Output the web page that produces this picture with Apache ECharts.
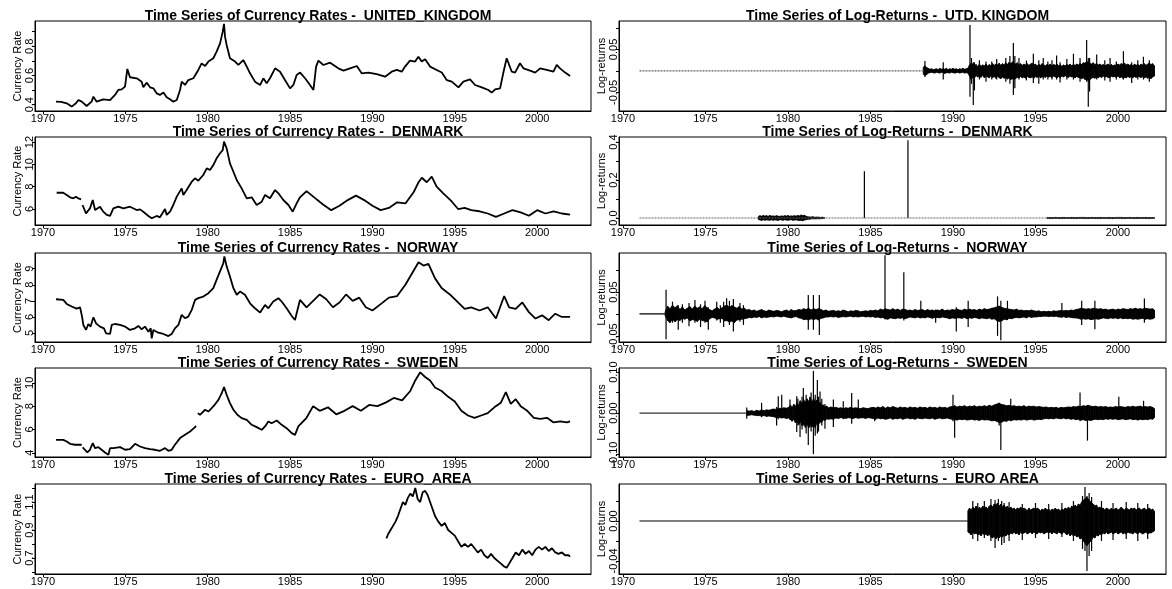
<!DOCTYPE html>
<html>
<head>
<meta charset="utf-8">
<script src="https://cdn.jsdelivr.net/npm/echarts@6/dist/echarts.min.js"></script>
<style>
  html, body { margin: 0; padding: 0; background: #fff; }
  #chart { width: 1172px; height: 589px; }
</style>
</head>
<body>
<div id="chart"></div>
<script>
// ---------- data ----------
const yearTicks = [1970, 1975, 1980, 1985, 1990, 1995, 2000];

const countriesRate = ['UNITED_KINGDOM', 'DENMARK', 'NORWAY', 'SWEDEN', 'EURO_AREA'];
const countriesReturn = ['UTD. KINGDOM', 'DENMARK', 'NORWAY', 'SWEDEN', 'EURO AREA'];

// currency rates: [decimal year, rate]; null marks a break in the series
const ukRate = [[1970.79,0.421],[1971.1,0.42],[1971.44,0.41],[1971.74,0.387],[1971.84,0.382],[1972.0,0.41],[1972.15,0.432],[1972.35,0.421],[1972.65,0.391],[1972.95,0.421],[1973.06,0.455],[1973.26,0.421],[1973.66,0.437],[1974.07,0.432],[1974.37,0.467],[1974.57,0.501],[1974.78,0.505],[1974.98,0.524],[1975.04,0.576],[1975.12,0.645],[1975.28,0.588],[1975.69,0.581],[1975.99,0.558],[1976.09,0.519],[1976.29,0.551],[1976.5,0.519],[1976.7,0.512],[1976.9,0.478],[1977.1,0.467],[1977.31,0.483],[1977.51,0.451],[1977.71,0.437],[1977.91,0.421],[1978.12,0.432],[1978.32,0.501],[1978.42,0.558],[1978.62,0.535],[1978.82,0.569],[1979.13,0.581],[1979.43,0.638],[1979.63,0.683],[1979.84,0.665],[1980.04,0.695],[1980.34,0.718],[1980.54,0.763],[1980.75,0.82],[1980.91,0.9],[1980.99,0.953],[1981.05,0.866],[1981.15,0.809],[1981.35,0.718],[1981.66,0.695],[1981.86,0.672],[1982.16,0.706],[1982.37,0.661],[1982.57,0.615],[1982.87,0.558],[1983.18,0.535],[1983.38,0.581],[1983.58,0.547],[1983.78,0.581],[1984.09,0.649],[1984.39,0.626],[1984.69,0.569],[1985.0,0.512],[1985.2,0.535],[1985.4,0.604],[1985.61,0.62],[1985.91,0.581],[1986.21,0.535],[1986.42,0.501],[1986.58,0.661],[1986.72,0.702],[1987.02,0.672],[1987.43,0.688],[1987.93,0.649],[1988.24,0.633],[1988.64,0.649],[1989.05,0.665],[1989.35,0.615],[1989.76,0.62],[1990.26,0.61],[1990.77,0.592],[1991.17,0.626],[1991.48,0.638],[1991.78,0.626],[1991.98,0.661],[1992.28,0.702],[1992.59,0.695],[1992.79,0.729],[1992.99,0.695],[1993.2,0.711],[1993.5,0.661],[1993.9,0.638],[1994.21,0.62],[1994.51,0.569],[1994.82,0.558],[1995.22,0.519],[1995.52,0.558],[1995.93,0.574],[1996.23,0.535],[1996.64,0.519],[1997.04,0.501],[1997.24,0.483],[1997.45,0.505],[1997.75,0.512],[1997.95,0.62],[1998.15,0.718],[1998.26,0.729],[1998.46,0.626],[1998.66,0.62],[1998.96,0.684],[1999.17,0.649],[1999.57,0.633],[1999.88,0.62],[2000.18,0.649],[2000.58,0.638],[2000.99,0.626],[2001.19,0.672],[2001.39,0.649],[2001.7,0.62],[2002.0,0.597]];

const dkRate = [[1970.83,7.46],[1971.23,7.46],[1971.44,7.26],[1971.64,7.05],[1971.84,6.96],[1972.0,7.1],[1972.15,6.95],[1972.31,6.87],null,[1972.4,6.36],[1972.61,5.61],[1972.85,6.06],[1973.02,6.81],[1973.16,5.91],[1973.46,6.21],[1973.66,5.76],[1973.87,5.47],[1974.07,5.38],[1974.27,6.06],[1974.57,6.21],[1974.88,6.06],[1975.28,6.21],[1975.69,5.91],[1975.89,5.97],[1976.09,5.76],[1976.4,5.38],[1976.6,5.17],[1976.9,5.38],[1977.1,5.26],[1977.41,6.0],[1977.51,5.47],[1977.71,5.76],[1977.91,6.36],[1978.12,7.11],[1978.42,7.85],[1978.52,7.26],[1978.72,7.7],[1979.03,8.45],[1979.23,8.75],[1979.43,8.54],[1979.73,9.05],[1979.94,9.64],[1980.14,9.49],[1980.34,9.94],[1980.54,10.54],[1980.75,10.99],[1980.91,11.28],[1980.99,12.03],[1981.05,12.18],[1981.15,11.43],[1981.35,10.09],[1981.56,9.34],[1981.76,8.6],[1982.06,7.85],[1982.37,6.96],[1982.67,7.05],[1982.97,6.36],[1983.28,6.66],[1983.48,7.26],[1983.78,6.96],[1984.09,7.7],[1984.29,7.41],[1984.59,6.81],[1984.9,6.36],[1985.16,5.76],[1985.4,6.51],[1985.6,7.05],[1986.0,7.6],[1986.5,7.0],[1987.0,6.4],[1987.5,5.9],[1988.0,6.3],[1988.5,6.8],[1989.0,7.2],[1989.5,6.8],[1990.0,6.3],[1990.5,5.9],[1991.0,6.1],[1991.5,6.6],[1992.0,6.5],[1992.5,7.5],[1992.8,8.4],[1993.0,8.8],[1993.3,8.4],[1993.6,8.9],[1993.9,8.0],[1994.3,7.4],[1994.8,6.7],[1995.2,6.0],[1995.6,6.1],[1996.0,5.9],[1996.5,5.8],[1997.0,5.6],[1997.5,5.3],[1998.0,5.6],[1998.5,5.9],[1999.0,5.7],[1999.5,5.4],[2000.0,5.9],[2000.5,5.6],[2001.0,5.8],[2001.5,5.6],[2002.0,5.5]];

const noRate = [[1970.79,7.1],[1971.23,7.06],[1971.44,6.81],[1971.74,6.65],[1972.04,6.52],[1972.25,6.6],[1972.35,6.52],[1972.37,6.02],[1972.45,5.5],[1972.61,5.19],[1972.75,5.56],[1972.89,5.4],[1973.06,5.98],[1973.22,5.6],[1973.46,5.4],[1973.7,5.29],[1973.83,4.98],[1974.07,4.94],[1974.17,5.5],[1974.37,5.56],[1974.68,5.5],[1974.98,5.4],[1975.28,5.19],[1975.59,5.29],[1975.79,5.44],[1975.99,5.23],[1976.19,5.4],[1976.4,5.08],[1976.54,5.29],[1976.6,4.67],[1976.7,5.19],[1977.0,5.02],[1977.31,4.94],[1977.61,4.81],[1977.81,4.94],[1978.01,5.29],[1978.22,5.5],[1978.42,6.13],[1978.62,5.92],[1978.82,6.02],[1979.03,6.44],[1979.23,7.06],[1979.43,7.17],[1979.73,7.27],[1980.04,7.48],[1980.34,7.79],[1980.58,8.42],[1980.79,8.94],[1980.95,9.35],[1981.01,9.77],[1981.15,9.15],[1981.35,8.52],[1981.56,7.79],[1981.76,7.38],[1981.96,7.58],[1982.26,7.38],[1982.57,6.85],[1982.87,6.54],[1983.18,6.27],[1983.48,6.75],[1983.68,6.54],[1983.98,6.96],[1984.29,7.17],[1984.49,6.96],[1984.79,6.54],[1985.1,6.06],[1985.3,5.81],[1985.4,6.23],[1985.6,7.06],[1986.0,6.6],[1986.4,7.0],[1986.8,7.4],[1987.2,7.1],[1987.6,6.6],[1988.0,6.9],[1988.4,7.4],[1988.8,7.0],[1989.2,7.2],[1989.6,6.6],[1990.0,6.4],[1990.5,6.8],[1991.0,7.2],[1991.5,7.3],[1992.0,8.0],[1992.4,8.7],[1992.8,9.4],[1993.1,9.2],[1993.4,9.3],[1993.8,8.4],[1994.2,7.8],[1994.7,7.4],[1995.2,6.9],[1995.6,6.5],[1996.0,6.6],[1996.5,6.4],[1997.0,6.6],[1997.5,5.9],[1998.0,7.3],[1998.3,6.6],[1998.7,6.5],[1999.1,6.9],[1999.5,6.3],[1999.9,5.9],[2000.3,6.1],[2000.7,5.8],[2001.1,6.2],[2001.5,6.0],[2002.0,6.0]];

const seRate = [[1970.79,5.11],[1971.23,5.11],[1971.44,4.97],[1971.64,4.77],[1971.94,4.69],[1972.25,4.69],[1972.35,4.69],null,[1972.41,4.46],[1972.55,4.26],[1972.69,4.03],[1972.85,4.26],[1973.02,4.83],[1973.16,4.4],[1973.36,4.49],[1973.56,4.26],[1973.76,4.03],[1973.97,3.83],[1974.07,4.4],[1974.27,4.4],[1974.68,4.49],[1974.98,4.26],[1975.28,4.31],[1975.59,4.77],[1975.89,4.54],[1976.19,4.4],[1976.5,4.31],[1976.8,4.26],[1977.1,4.17],[1977.41,4.4],[1977.61,4.17],[1977.81,4.26],[1978.01,4.69],[1978.32,5.26],[1978.62,5.54],[1978.93,5.83],[1979.23,6.2],[1979.29,6.31],null,[1979.4,7.4],[1979.53,7.26],[1979.84,7.69],[1980.04,7.54],[1980.34,7.97],[1980.65,8.54],[1980.85,9.11],[1980.99,9.63],[1981.15,8.97],[1981.35,8.26],[1981.56,7.69],[1981.8,7.26],[1982.06,6.97],[1982.37,6.83],[1982.67,6.4],[1982.97,6.2],[1983.28,5.97],[1983.48,6.26],[1983.68,6.69],[1983.88,6.54],[1984.19,6.77],[1984.49,6.4],[1984.79,6.11],[1985.1,5.69],[1985.3,5.54],[1985.5,6.26],[1986.0,7.0],[1986.4,8.0],[1986.8,7.6],[1987.3,7.9],[1987.8,7.3],[1988.3,7.6],[1988.8,8.0],[1989.3,7.6],[1989.8,8.1],[1990.3,8.0],[1990.8,8.3],[1991.3,8.7],[1991.8,8.5],[1992.3,9.3],[1992.6,10.2],[1992.9,10.9],[1993.2,10.5],[1993.5,10.2],[1993.8,9.6],[1994.2,9.3],[1994.6,8.8],[1995.0,8.4],[1995.4,7.6],[1995.8,7.2],[1996.2,7.0],[1996.6,7.2],[1997.0,7.4],[1997.4,7.9],[1997.8,8.3],[1998.1,9.2],[1998.4,8.2],[1998.7,8.6],[1999.0,8.0],[1999.4,7.6],[1999.8,7.0],[2000.2,6.9],[2000.6,7.0],[2001.0,6.6],[2001.4,6.7],[2001.8,6.6],[2002.0,6.7]];

const euRate = [[1990.85,0.84],[1990.95,0.87],[1991.1,0.9],[1991.25,0.93],[1991.4,0.96],[1991.55,1.0],[1991.7,1.05],[1991.85,1.1],[1992.0,1.08],[1992.15,1.13],[1992.3,1.16],[1992.45,1.14],[1992.6,1.2],[1992.75,1.12],[1992.9,1.1],[1993.05,1.17],[1993.2,1.18],[1993.35,1.15],[1993.5,1.1],[1993.65,1.05],[1993.8,1.0],[1994.0,0.96],[1994.2,0.93],[1994.4,0.95],[1994.6,0.9],[1994.8,0.88],[1995.0,0.86],[1995.2,0.82],[1995.4,0.78],[1995.6,0.8],[1995.8,0.78],[1996.0,0.8],[1996.2,0.77],[1996.4,0.74],[1996.6,0.76],[1996.8,0.72],[1997.0,0.7],[1997.2,0.73],[1997.4,0.7],[1997.6,0.68],[1997.8,0.66],[1998.0,0.64],[1998.15,0.63],[1998.3,0.66],[1998.5,0.7],[1998.7,0.74],[1998.9,0.72],[1999.1,0.76],[1999.3,0.73],[1999.5,0.75],[1999.7,0.72],[1999.9,0.76],[2000.1,0.78],[2000.3,0.76],[2000.5,0.78],[2000.7,0.75],[2000.9,0.77],[2001.1,0.74],[2001.3,0.73],[2001.5,0.74],[2001.7,0.72],[2001.9,0.72],[2002.0,0.71]];

// log-returns: periods where the series is flat at zero [from, to]
const ukZeroSpan = [1971.0, 1988.2];
const dkZeroSpan = [1971.0, 2002.2];
const noZeroSpan = [1971.0, 1972.55];
const seZeroSpan = [1971.0, 1977.5];
const euZeroSpan = [1971.0, 1990.9];

// log-returns, typical daily range: [decimal year, highest, lowest]
const ukBand = [[1988.2,0.009,-0.008],[1988.3,0.012,-0.010],[1988.4,0.008,-0.009],[1988.5,0.006,-0.005],[1988.6,0.004,-0.004],[1988.7,0.005,-0.003],[1988.8,0.003,-0.004],[1988.9,0.004,-0.005],[1989.0,0.005,-0.003],[1989.1,0.003,-0.004],[1989.2,0.006,-0.005],[1989.3,0.004,-0.003],[1989.4,0.005,-0.004],[1989.5,0.004,-0.006],[1989.6,0.006,-0.004],[1989.7,0.003,-0.004],[1989.8,0.005,-0.005],[1989.9,0.004,-0.003],[1990.0,0.006,-0.004],[1990.1,0.004,-0.005],[1990.2,0.005,-0.004],[1990.3,0.003,-0.003],[1990.4,0.005,-0.005],[1990.5,0.004,-0.004],[1990.6,0.006,-0.003],[1990.7,0.004,-0.005],[1990.8,0.005,-0.004],[1990.9,0.006,-0.005],[1991.0,0.014,-0.012],[1991.1,0.018,-0.020],[1991.2,0.016,-0.015],[1991.3,0.012,-0.016],[1991.4,0.015,-0.011],[1991.5,0.010,-0.014],[1991.6,0.016,-0.012],[1991.7,0.011,-0.015],[1991.8,0.014,-0.010],[1991.9,0.012,-0.016],[1992.0,0.016,-0.012],[1992.1,0.011,-0.014],[1992.2,0.015,-0.016],[1992.3,0.012,-0.011],[1992.4,0.017,-0.015],[1992.5,0.013,-0.013],[1992.6,0.016,-0.017],[1992.7,0.014,-0.012],[1992.8,0.018,-0.016],[1992.9,0.013,-0.018],[1993.0,0.017,-0.014],[1993.1,0.014,-0.017],[1993.2,0.019,-0.015],[1993.3,0.015,-0.019],[1993.4,0.020,-0.016],[1993.5,0.017,-0.020],[1993.6,0.021,-0.018],[1993.7,0.018,-0.021],[1993.8,0.016,-0.017],[1993.9,0.019,-0.015],[1994.0,0.014,-0.016],[1994.1,0.017,-0.013],[1994.2,0.013,-0.016],[1994.3,0.016,-0.014],[1994.4,0.014,-0.017],[1994.5,0.017,-0.013],[1994.6,0.013,-0.015],[1994.7,0.016,-0.016],[1994.8,0.018,-0.014],[1994.9,0.014,-0.017],[1995.0,0.016,-0.013],[1995.1,0.012,-0.015],[1995.2,0.015,-0.012],[1995.3,0.013,-0.016],[1995.4,0.017,-0.014],[1995.5,0.014,-0.013],[1995.6,0.012,-0.015],[1995.7,0.015,-0.012],[1995.8,0.013,-0.014],[1995.9,0.016,-0.013],[1996.0,0.012,-0.015],[1996.1,0.015,-0.012],[1996.2,0.013,-0.014],[1996.3,0.016,-0.016],[1996.4,0.012,-0.013],[1996.5,0.014,-0.016],[1996.6,0.011,-0.012],[1996.7,0.014,-0.014],[1996.8,0.012,-0.011],[1996.9,0.015,-0.013],[1997.0,0.013,-0.015],[1997.1,0.016,-0.012],[1997.2,0.012,-0.014],[1997.3,0.015,-0.013],[1997.4,0.013,-0.016],[1997.5,0.016,-0.013],[1997.6,0.014,-0.015],[1997.7,0.017,-0.016],[1997.8,0.015,-0.018],[1997.9,0.019,-0.016],[1998.0,0.018,-0.020],[1998.1,0.022,-0.019],[1998.2,0.020,-0.023],[1998.3,0.018,-0.020],[1998.4,0.016,-0.017],[1998.5,0.019,-0.015],[1998.6,0.015,-0.017],[1998.7,0.017,-0.014],[1998.8,0.014,-0.016],[1998.9,0.016,-0.013],[1999.0,0.013,-0.015],[1999.1,0.015,-0.012],[1999.2,0.012,-0.014],[1999.3,0.014,-0.013],[1999.4,0.016,-0.015],[1999.5,0.013,-0.016],[1999.6,0.015,-0.012],[1999.7,0.012,-0.014],[1999.8,0.014,-0.013],[1999.9,0.013,-0.015],[2000.0,0.016,-0.012],[2000.1,0.014,-0.016],[2000.2,0.017,-0.014],[2000.3,0.015,-0.017],[2000.4,0.018,-0.015],[2000.5,0.014,-0.016],[2000.6,0.016,-0.013],[2000.7,0.013,-0.015],[2000.8,0.015,-0.014],[2000.9,0.012,-0.016],[2001.0,0.016,-0.013],[2001.1,0.013,-0.015],[2001.2,0.015,-0.012],[2001.3,0.012,-0.014],[2001.4,0.016,-0.015],[2001.5,0.014,-0.013],[2001.6,0.017,-0.016],[2001.7,0.013,-0.014],[2001.8,0.016,-0.017],[2001.9,0.018,-0.015],[2002.0,0.015,-0.018],[2002.1,0.017,-0.014],[2002.2,0.012,-0.012]];

const dkBand = [[1978.2,0.008,-0.008],[1978.3,0.012,-0.010],[1978.4,0.009,-0.013],[1978.5,0.013,-0.009],[1978.6,0.010,-0.012],[1978.7,0.012,-0.010],[1978.8,0.009,-0.011],[1978.9,0.013,-0.012],[1979.0,0.010,-0.009],[1979.1,0.011,-0.012],[1979.2,0.009,-0.010],[1979.3,0.012,-0.011],[1979.4,0.010,-0.013],[1979.5,0.008,-0.009],[1979.6,0.011,-0.010],[1979.7,0.009,-0.012],[1979.8,0.012,-0.009],[1979.9,0.010,-0.011],[1980.0,0.013,-0.012],[1980.1,0.009,-0.010],[1980.2,0.011,-0.009],[1980.3,0.010,-0.012],[1980.4,0.012,-0.011],[1980.5,0.010,-0.010],[1980.6,0.013,-0.012],[1980.7,0.011,-0.013],[1980.8,0.016,-0.012],[1980.9,0.012,-0.015],[1981.0,0.014,-0.011],[1981.1,0.009,-0.009],[1981.2,0.006,-0.007],[1981.35,0.005,-0.006],[1981.5,0.006,-0.004],[1981.65,0.004,-0.005],[1981.8,0.005,-0.004],[1981.95,0.003,-0.004],[1982.1,0.004,-0.003],[1982.2,0.002,-0.002],[1995.7,0.003,-0.003],[1995.95,0.002,-0.003],[1996.2,0.003,-0.002],[1996.45,0.002,-0.003],[1996.7,0.003,-0.003],[1996.95,0.002,-0.002],[1997.2,0.003,-0.003],[1997.45,0.002,-0.003],[1997.7,0.003,-0.002],[1997.95,0.003,-0.003],[1998.2,0.002,-0.003],[1998.45,0.003,-0.002],[1998.7,0.002,-0.003],[1998.95,0.003,-0.003],[1999.2,0.002,-0.002],[1999.45,0.003,-0.003],[1999.7,0.002,-0.003],[1999.95,0.003,-0.002],[2000.2,0.003,-0.003],[2000.45,0.002,-0.003],[2000.7,0.003,-0.002],[2000.95,0.002,-0.003],[2001.2,0.003,-0.003],[2001.45,0.002,-0.002],[2001.7,0.003,-0.003],[2001.95,0.002,-0.003],[2002.2,0.002,-0.002]];

const noBand = [[1972.55,0.004,-0.004],[1972.7,0.018,-0.015],[1972.85,0.012,-0.02],[1973.0,0.02,-0.012],[1973.15,0.014,-0.018],[1973.3,0.019,-0.013],[1973.45,0.01,-0.015],[1973.6,0.016,-0.01],[1973.75,0.009,-0.012],[1973.9,0.013,-0.009],[1974.05,0.017,-0.016],[1974.2,0.011,-0.013],[1974.35,0.018,-0.014],[1974.5,0.013,-0.017],[1974.65,0.016,-0.012],[1974.8,0.012,-0.015],[1974.95,0.019,-0.016],[1975.1,0.014,-0.018],[1975.25,0.01,-0.011],[1975.4,0.007,-0.008],[1975.55,0.011,-0.009],[1975.7,0.015,-0.012],[1975.85,0.01,-0.011],[1976.0,0.014,-0.01],[1976.15,0.018,-0.016],[1976.3,0.02,-0.015],[1976.45,0.015,-0.019],[1976.6,0.019,-0.016],[1976.75,0.016,-0.02],[1976.9,0.013,-0.014],[1977.05,0.017,-0.013],[1977.2,0.011,-0.012],[1977.35,0.013,-0.011],[1977.5,0.009,-0.01],[1977.65,0.01,-0.008],[1977.8,0.007,-0.009],[1977.95,0.009,-0.007],[1978.1,0.006,-0.008],[1978.25,0.008,-0.006],[1978.4,0.01,-0.009],[1978.55,0.007,-0.007],[1978.7,0.006,-0.008],[1978.85,0.009,-0.007],[1979.0,0.007,-0.006],[1979.15,0.006,-0.007],[1979.3,0.008,-0.005],[1979.45,0.007,-0.006],[1979.6,0.005,-0.007],[1979.75,0.007,-0.005],[1979.9,0.009,-0.007],[1980.05,0.006,-0.008],[1980.2,0.01,-0.009],[1980.35,0.007,-0.007],[1980.5,0.008,-0.006],[1980.65,0.01,-0.009],[1980.8,0.009,-0.01],[1980.95,0.012,-0.013],[1981.1,0.01,-0.012],[1981.25,0.013,-0.014],[1981.4,0.009,-0.011],[1981.55,0.012,-0.013],[1981.7,0.01,-0.011],[1981.85,0.012,-0.014],[1982.0,0.01,-0.01],[1982.15,0.007,-0.009],[1982.3,0.009,-0.007],[1982.45,0.006,-0.007],[1982.6,0.007,-0.006],[1982.75,0.008,-0.007],[1982.9,0.006,-0.006],[1983.05,0.007,-0.008],[1983.2,0.006,-0.007],[1983.35,0.009,-0.006],[1983.5,0.007,-0.007],[1983.65,0.005,-0.006],[1983.8,0.007,-0.005],[1983.95,0.006,-0.007],[1984.1,0.008,-0.006],[1984.25,0.007,-0.007],[1984.4,0.005,-0.006],[1984.55,0.006,-0.005],[1984.7,0.007,-0.007],[1984.85,0.006,-0.006],[1985.0,0.008,-0.007],[1985.15,0.007,-0.006],[1985.3,0.009,-0.008],[1985.45,0.007,-0.007],[1985.6,0.011,-0.009],[1985.75,0.009,-0.008],[1985.9,0.012,-0.011],[1986.05,0.01,-0.012],[1986.2,0.009,-0.009],[1986.35,0.012,-0.01],[1986.5,0.009,-0.011],[1986.65,0.011,-0.009],[1986.8,0.008,-0.01],[1986.95,0.011,-0.009],[1987.1,0.01,-0.011],[1987.25,0.008,-0.009],[1987.4,0.009,-0.007],[1987.55,0.007,-0.008],[1987.7,0.01,-0.009],[1987.85,0.008,-0.007],[1988.0,0.009,-0.009],[1988.15,0.01,-0.008],[1988.3,0.007,-0.009],[1988.45,0.01,-0.007],[1988.6,0.008,-0.008],[1988.75,0.009,-0.01],[1988.9,0.007,-0.008],[1989.05,0.009,-0.008],[1989.2,0.008,-0.009],[1989.35,0.011,-0.007],[1989.5,0.007,-0.008],[1989.65,0.009,-0.009],[1989.8,0.008,-0.011],[1989.95,0.01,-0.009],[1990.1,0.009,-0.01],[1990.25,0.011,-0.009],[1990.4,0.009,-0.009],[1990.55,0.008,-0.01],[1990.7,0.011,-0.008],[1990.85,0.009,-0.011],[1991.0,0.011,-0.009],[1991.15,0.009,-0.01],[1991.3,0.01,-0.008],[1991.45,0.008,-0.009],[1991.6,0.011,-0.011],[1991.75,0.009,-0.009],[1991.9,0.012,-0.01],[1992.05,0.01,-0.011],[1992.2,0.011,-0.009],[1992.35,0.013,-0.012],[1992.5,0.014,-0.011],[1992.65,0.016,-0.015],[1992.8,0.018,-0.017],[1992.95,0.015,-0.016],[1993.1,0.013,-0.012],[1993.25,0.012,-0.013],[1993.4,0.011,-0.01],[1993.55,0.01,-0.011],[1993.7,0.009,-0.009],[1993.85,0.011,-0.008],[1994.0,0.008,-0.009],[1994.15,0.009,-0.008],[1994.3,0.007,-0.007],[1994.45,0.008,-0.009],[1994.6,0.007,-0.006],[1994.75,0.009,-0.008],[1994.9,0.007,-0.007],[1995.05,0.006,-0.007],[1995.2,0.007,-0.006],[1995.35,0.005,-0.006],[1995.5,0.006,-0.005],[1995.65,0.005,-0.005],[1995.8,0.006,-0.006],[1995.95,0.005,-0.005],[1996.1,0.007,-0.006],[1996.25,0.006,-0.005],[1996.4,0.007,-0.007],[1996.55,0.008,-0.007],[1996.7,0.007,-0.006],[1996.85,0.008,-0.008],[1997.0,0.007,-0.007],[1997.15,0.009,-0.008],[1997.3,0.008,-0.009],[1997.45,0.01,-0.009],[1997.6,0.011,-0.01],[1997.75,0.013,-0.012],[1997.9,0.012,-0.011],[1998.05,0.011,-0.012],[1998.2,0.012,-0.011],[1998.35,0.011,-0.013],[1998.5,0.013,-0.012],[1998.65,0.012,-0.011],[1998.8,0.011,-0.012],[1998.95,0.012,-0.011],[1999.1,0.01,-0.009],[1999.25,0.011,-0.01],[1999.4,0.009,-0.011],[1999.55,0.01,-0.009],[1999.7,0.011,-0.01],[1999.85,0.009,-0.009],[2000.0,0.011,-0.011],[2000.15,0.01,-0.009],[2000.3,0.012,-0.011],[2000.45,0.011,-0.01],[2000.6,0.01,-0.011],[2000.75,0.012,-0.01],[2000.9,0.011,-0.012],[2001.05,0.013,-0.011],[2001.2,0.011,-0.012],[2001.35,0.012,-0.011],[2001.5,0.011,-0.01],[2001.65,0.013,-0.012],[2001.8,0.012,-0.011],[2001.95,0.011,-0.012],[2002.1,0.012,-0.011],[2002.2,0.009,-0.009]];

const seBand = [[1977.5,0.006,-0.006],[1977.65,0.005,-0.005],[1977.8,0.006,-0.004],[1977.95,0.004,-0.005],[1978.1,0.007,-0.006],[1978.25,0.005,-0.006],[1978.4,0.008,-0.007],[1978.55,0.006,-0.006],[1978.7,0.008,-0.008],[1978.85,0.007,-0.007],[1979.0,0.009,-0.008],[1979.15,0.01,-0.009],[1979.3,0.009,-0.011],[1979.45,0.012,-0.01],[1979.6,0.011,-0.012],[1979.75,0.013,-0.011],[1979.9,0.012,-0.013],[1980.05,0.014,-0.012],[1980.15,0.02,-0.016],[1980.25,0.013,-0.02],[1980.35,0.022,-0.015],[1980.45,0.016,-0.024],[1980.55,0.025,-0.018],[1980.65,0.018,-0.028],[1980.75,0.03,-0.02],[1980.85,0.022,-0.03],[1980.95,0.033,-0.024],[1981.05,0.025,-0.035],[1981.15,0.035,-0.026],[1981.25,0.028,-0.036],[1981.35,0.038,-0.028],[1981.45,0.026,-0.034],[1981.55,0.036,-0.03],[1981.65,0.027,-0.035],[1981.75,0.032,-0.024],[1981.85,0.022,-0.028],[1981.95,0.026,-0.02],[1982.05,0.018,-0.022],[1982.15,0.02,-0.016],[1982.25,0.015,-0.018],[1982.35,0.017,-0.014],[1982.45,0.013,-0.015],[1982.6,0.015,-0.014],[1982.75,0.013,-0.015],[1982.9,0.014,-0.012],[1983.05,0.012,-0.013],[1983.2,0.013,-0.011],[1983.35,0.011,-0.012],[1983.5,0.013,-0.013],[1983.65,0.012,-0.011],[1983.8,0.014,-0.012],[1983.95,0.012,-0.013],[1984.1,0.013,-0.011],[1984.25,0.012,-0.012],[1984.4,0.011,-0.012],[1984.55,0.013,-0.011],[1984.7,0.012,-0.013],[1984.85,0.011,-0.011],[1985.0,0.013,-0.012],[1985.15,0.014,-0.013],[1985.3,0.012,-0.015],[1985.45,0.015,-0.012],[1985.6,0.013,-0.014],[1985.75,0.016,-0.013],[1985.9,0.012,-0.015],[1986.05,0.015,-0.014],[1986.2,0.013,-0.012],[1986.35,0.016,-0.015],[1986.5,0.014,-0.013],[1986.65,0.012,-0.014],[1986.8,0.015,-0.012],[1986.95,0.013,-0.015],[1987.1,0.014,-0.013],[1987.25,0.012,-0.012],[1987.4,0.015,-0.014],[1987.55,0.013,-0.013],[1987.7,0.014,-0.015],[1987.85,0.012,-0.012],[1988.0,0.015,-0.013],[1988.15,0.013,-0.014],[1988.3,0.014,-0.012],[1988.45,0.012,-0.013],[1988.6,0.015,-0.014],[1988.75,0.013,-0.012],[1988.9,0.014,-0.015],[1989.05,0.012,-0.013],[1989.2,0.015,-0.012],[1989.35,0.013,-0.014],[1989.5,0.014,-0.013],[1989.65,0.012,-0.012],[1989.8,0.015,-0.014],[1989.95,0.016,-0.015],[1990.1,0.017,-0.016],[1990.25,0.015,-0.017],[1990.4,0.017,-0.015],[1990.55,0.016,-0.016],[1990.7,0.018,-0.015],[1990.85,0.015,-0.017],[1991.0,0.017,-0.016],[1991.15,0.016,-0.015],[1991.3,0.018,-0.017],[1991.45,0.015,-0.016],[1991.6,0.017,-0.018],[1991.75,0.016,-0.015],[1991.9,0.018,-0.017],[1992.05,0.016,-0.016],[1992.2,0.019,-0.017],[1992.35,0.017,-0.019],[1992.5,0.02,-0.018],[1992.65,0.022,-0.02],[1992.8,0.024,-0.023],[1992.95,0.021,-0.022],[1993.1,0.02,-0.019],[1993.25,0.018,-0.02],[1993.4,0.019,-0.017],[1993.55,0.017,-0.018],[1993.7,0.018,-0.016],[1993.85,0.016,-0.017],[1994.0,0.017,-0.016],[1994.15,0.016,-0.017],[1994.3,0.018,-0.015],[1994.45,0.015,-0.017],[1994.6,0.017,-0.016],[1994.75,0.016,-0.015],[1994.9,0.017,-0.017],[1995.05,0.015,-0.016],[1995.2,0.016,-0.015],[1995.35,0.015,-0.016],[1995.5,0.014,-0.014],[1995.65,0.015,-0.013],[1995.8,0.013,-0.014],[1995.95,0.014,-0.013],[1996.1,0.013,-0.014],[1996.25,0.014,-0.012],[1996.4,0.012,-0.013],[1996.55,0.014,-0.014],[1996.7,0.013,-0.012],[1996.85,0.014,-0.014],[1997.0,0.015,-0.013],[1997.15,0.014,-0.015],[1997.3,0.016,-0.014],[1997.45,0.015,-0.016],[1997.6,0.017,-0.015],[1997.75,0.016,-0.017],[1997.9,0.018,-0.016],[1998.05,0.017,-0.018],[1998.2,0.019,-0.017],[1998.35,0.017,-0.018],[1998.5,0.016,-0.016],[1998.65,0.017,-0.015],[1998.8,0.015,-0.016],[1998.95,0.016,-0.015],[1999.1,0.015,-0.016],[1999.25,0.016,-0.014],[1999.4,0.014,-0.015],[1999.55,0.015,-0.014],[1999.7,0.014,-0.015],[1999.85,0.016,-0.014],[2000.0,0.015,-0.016],[2000.15,0.016,-0.015],[2000.3,0.015,-0.014],[2000.45,0.014,-0.016],[2000.6,0.016,-0.015],[2000.75,0.015,-0.014],[2000.9,0.017,-0.016],[2001.05,0.015,-0.015],[2001.2,0.016,-0.017],[2001.35,0.017,-0.015],[2001.5,0.015,-0.016],[2001.65,0.016,-0.015],[2001.8,0.015,-0.016],[2001.95,0.016,-0.014],[2002.1,0.014,-0.015],[2002.2,0.011,-0.011]];

const euBand = [[1990.9,0.010,-0.011],[1991.0,0.013,-0.012],[1991.1,0.011,-0.014],[1991.2,0.014,-0.011],[1991.3,0.012,-0.013],[1991.4,0.015,-0.012],[1991.5,0.011,-0.014],[1991.6,0.014,-0.013],[1991.7,0.012,-0.015],[1991.8,0.015,-0.012],[1991.9,0.013,-0.014],[1992.0,0.014,-0.013],[1992.1,0.012,-0.015],[1992.2,0.015,-0.013],[1992.3,0.016,-0.016],[1992.4,0.014,-0.017],[1992.5,0.017,-0.015],[1992.6,0.016,-0.018],[1992.7,0.018,-0.016],[1992.8,0.015,-0.017],[1992.9,0.017,-0.015],[1993.0,0.014,-0.016],[1993.1,0.016,-0.014],[1993.2,0.013,-0.015],[1993.3,0.015,-0.013],[1993.4,0.012,-0.014],[1993.5,0.014,-0.012],[1993.6,0.012,-0.013],[1993.7,0.013,-0.011],[1993.8,0.011,-0.013],[1993.9,0.013,-0.012],[1994.0,0.012,-0.014],[1994.1,0.014,-0.011],[1994.2,0.011,-0.013],[1994.3,0.013,-0.012],[1994.4,0.012,-0.011],[1994.5,0.010,-0.013],[1994.6,0.013,-0.012],[1994.7,0.011,-0.011],[1994.8,0.012,-0.013],[1994.9,0.013,-0.011],[1995.0,0.011,-0.012],[1995.1,0.013,-0.013],[1995.2,0.012,-0.011],[1995.3,0.010,-0.012],[1995.4,0.012,-0.011],[1995.5,0.011,-0.013],[1995.6,0.013,-0.012],[1995.7,0.011,-0.011],[1995.8,0.012,-0.012],[1995.9,0.010,-0.011],[1996.0,0.012,-0.013],[1996.1,0.011,-0.011],[1996.2,0.013,-0.012],[1996.3,0.011,-0.013],[1996.4,0.012,-0.011],[1996.5,0.010,-0.012],[1996.6,0.012,-0.013],[1996.7,0.011,-0.011],[1996.8,0.013,-0.012],[1996.9,0.012,-0.014],[1997.0,0.014,-0.012],[1997.1,0.012,-0.015],[1997.2,0.015,-0.013],[1997.3,0.013,-0.015],[1997.4,0.016,-0.014],[1997.5,0.014,-0.016],[1997.6,0.017,-0.015],[1997.7,0.016,-0.018],[1997.8,0.019,-0.017],[1997.9,0.021,-0.020],[1998.0,0.022,-0.022],[1998.1,0.024,-0.025],[1998.2,0.022,-0.023],[1998.3,0.020,-0.021],[1998.4,0.018,-0.019],[1998.5,0.017,-0.016],[1998.6,0.015,-0.017],[1998.7,0.016,-0.014],[1998.8,0.013,-0.015],[1998.9,0.014,-0.013],[1999.0,0.012,-0.014],[1999.1,0.013,-0.012],[1999.2,0.011,-0.013],[1999.3,0.013,-0.011],[1999.4,0.012,-0.013],[1999.5,0.011,-0.012],[1999.6,0.013,-0.011],[1999.7,0.011,-0.013],[1999.8,0.012,-0.012],[1999.9,0.013,-0.011],[2000.0,0.011,-0.013],[2000.1,0.012,-0.012],[2000.2,0.014,-0.011],[2000.3,0.012,-0.013],[2000.4,0.011,-0.012],[2000.5,0.013,-0.013],[2000.6,0.012,-0.011],[2000.7,0.011,-0.012],[2000.8,0.013,-0.012],[2000.9,0.012,-0.013],[2001.0,0.013,-0.011],[2001.1,0.011,-0.012],[2001.2,0.012,-0.013],[2001.3,0.013,-0.011],[2001.4,0.011,-0.012],[2001.5,0.012,-0.013],[2001.6,0.013,-0.012],[2001.7,0.011,-0.011],[2001.8,0.012,-0.013],[2001.9,0.013,-0.012],[2002.0,0.011,-0.012],[2002.1,0.012,-0.011],[2002.2,0.010,-0.010]];

// log-returns, single days reaching beyond the band: [decimal year, high, low]
const ukSpikes = [[1988.3,0.023,-0.014],[1989.41,0.020,-0.020],[1991.03,0.107,-0.060],[1991.12,0.03,-0.03],[1991.23,0.02,-0.079],[1991.3,0.02,-0.045],[1991.6,0.025,-0.02],[1992.0,0.022,-0.025],[1992.35,0.022,-0.02],[1992.65,0.028,-0.02],[1993.2,0.03,-0.025],[1993.45,0.035,-0.03],[1993.66,0.065,-0.056],[1993.75,0.035,-0.04],[1994.0,0.03,-0.02],[1994.45,0.024,-0.022],[1994.87,0.040,-0.028],[1995.2,0.025,-0.03],[1995.47,0.030,-0.02],[1995.75,0.022,-0.02],[1996.0,0.025,-0.02],[1996.28,0.036,-0.02],[1996.49,0.02,-0.027],[1996.9,0.028,-0.02],[1997.3,0.040,-0.02],[1997.7,0.03,-0.025],[1998.1,0.072,-0.025],[1998.2,0.03,-0.083],[1998.28,0.03,-0.048],[1998.71,0.038,-0.02],[1999.2,0.025,-0.022],[1999.52,0.030,-0.025],[1999.9,0.022,-0.02],[2000.33,0.046,-0.02],[2000.83,0.02,-0.028],[2001.2,0.025,-0.02],[2001.54,0.033,-0.02],[2001.9,0.025,-0.025]];
const dkSpikes = [[1984.63,0.247,0],[1987.27,0.41,0]];
const noSpikes = [[1972.61,0.055,-0.058],[1973.0,0.028,-0.02],[1973.35,0.02,-0.036],[1973.6,0.022,-0.02],[1974.0,0.025,-0.028],[1974.36,0.032,-0.02],[1974.7,0.022,-0.03],[1974.97,0.03,-0.02],[1975.17,0.015,-0.036],[1975.68,0.028,-0.015],[1975.9,0.02,-0.02],[1976.1,0.028,-0.03],[1976.28,0.036,-0.015],[1976.45,0.03,-0.025],[1976.69,0.034,-0.04],[1977.09,0.025,-0.018],[1977.3,0.02,-0.025],[1981.23,0.043,-0.036],[1981.54,0.043,-0.036],[1981.9,0.043,-0.048],[1985.88,0.134,-0.012],[1987.02,0.095,-0.015],[1988.05,0.03,-0.01],[1988.95,0.01,-0.02],[1990.2,0.015,-0.04],[1990.92,0.03,-0.03],[1992.7,0.04,-0.05],[1992.9,0.03,-0.06],[1993.3,0.03,-0.014],[1996.6,0.025,-0.009],[1997.8,0.03,-0.025],[1998.6,0.03,-0.035],[2001.6,0.035,-0.02]];
const seSpikes = [[1977.5,0.0135,-0.014],[1978.4,0.025,-0.01],[1979.31,0.015,-0.03],[1979.41,0.041,-0.015],[1979.62,0.045,-0.012],[1980.12,0.033,-0.016],[1980.53,0.041,-0.046],[1980.6,0.035,-0.03],[1980.73,0.03,-0.058],[1980.85,0.04,-0.04],[1980.93,0.061,-0.03],[1981.1,0.045,-0.05],[1981.23,0.03,-0.078],[1981.33,0.04,-0.035],[1981.4,0.05,-0.045],[1981.54,0.103,-0.1],[1981.65,0.045,-0.055],[1981.78,0.081,-0.05],[1981.85,0.04,-0.045],[1981.94,0.053,-0.025],[1982.05,0.035,-0.03],[1982.24,0.022,-0.038],[1982.75,0.033,-0.034],[1983.35,0.029,-0.015],[1983.86,0.049,-0.026],[1984.26,0.033,-0.014],[1985.25,0.014,-0.02],[1990.0,0.045,-0.02],[1990.1,0.02,-0.06],[1992.8,0.025,-0.03],[1992.9,0.02,-0.09],[1993.5,0.035,-0.02],[1997.7,0.05,-0.02],[1998.15,0.02,-0.067],[2000.05,0.04,-0.015],[2001.55,0.03,-0.015]];
const euSpikes = [[1991.2,0.02,-0.018],[1991.5,0.018,-0.02],[1991.9,0.02,-0.017],[1992.3,0.022,-0.02],[1992.55,0.021,-0.027],[1992.75,0.022,-0.02],[1992.95,0.02,-0.024],[1993.1,0.018,-0.022],[1993.4,0.019,-0.02],[1994.2,0.017,-0.019],[1995.0,0.018,-0.017],[1995.8,0.017,-0.018],[1996.6,0.018,-0.016],[1997.3,0.02,-0.02],[1997.85,0.025,-0.028],[1998.0,0.034,-0.03],[1998.12,0.025,-0.05],[1998.25,0.028,-0.035],[1998.4,0.024,-0.03],[1999.0,0.02,-0.02],[1999.7,0.018,-0.019],[2000.5,0.019,-0.018],[2001.2,0.018,-0.02],[2001.8,0.017,-0.018]];

// y-axis ticks and labelled ticks of every panel
const rateTicks = [[0.4,0.5,0.6,0.7,0.8,0.9],[6,8,10,12],[5,6,7,8,9],[4,6,8,10],[0.6,0.7,0.8,0.9,1.0,1.1,1.2]];
const rateTickLabels = [[0.4,0.6,0.8],[6,8,10,12],[5,6,7,8,9],[4,6,8,10],[0.7,0.9,1.1]];
const returnTicks = [[-0.05,0,0.05,0.1],[0,0.1,0.2,0.3,0.4],[-0.05,0,0.05,0.1],[-0.1,-0.05,0,0.05,0.1],[-0.04,-0.02,0,0.02]];
const returnTickLabels = [[-0.05,0.05],[0,0.2,0.4],[-0.05,0.05],[-0.1,0,0.1],[-0.04,0]];

// ---------- layout & styling ----------
const FONT = "'Liberation Sans', Arial, Helvetica, sans-serif";
const colLeft = [35, 619];
const colWidth = [556, 547];
const rowTop = [21, 137, 253, 368, 484];
const rowHeight = [90, 88, 89, 89, 90];
const xExtent = [[1969.514, 2003.27], [1969.758, 2002.91]];
const rateExtent = [[0.357, 0.973], [4.57, 12.45], [4.44, 9.98], [3.64, 11.27], [0.586, 1.229]];
const returnExtent = [[-0.093, 0.116], [-0.037, 0.427], [-0.064, 0.139], [-0.107, 0.11], [-0.053, 0.037]];
const rateDigits = [1, 0, 0, 0, 1];
const returnDigits = [2, 1, 2, 2, 2];
const zeroLineStyle = [
  { color: '#666', type: [2, 1] },
  { color: '#666', type: [2, 1] },
  { color: '#000', type: 'solid' },
  { color: '#333', type: 'solid' },
  { color: '#000', type: 'solid' }
];

const rateSeries = [ukRate, dkRate, noRate, seRate, euRate];
const bandSeries = [ukBand, dkBand, noBand, seBand, euBand];
const spikeSeries = [ukSpikes, dkSpikes, noSpikes, seSpikes, euSpikes];
const zeroSpans = [ukZeroSpan, dkZeroSpan, noZeroSpan, seZeroSpan, euZeroSpan];

function toLine(points) {
  return points.map(p => (p === null ? ['-', '-'] : p));
}
// consecutive periods are joined into filled quads; isolated periods stay single strokes
function toBands(entries) {
  const items = [];
  for (let i = 0; i < entries.length; i++) {
    const cur = entries[i];
    const next = entries[i + 1];
    if (next && next[0] - cur[0] <= 0.3) items.push([cur[0], cur[1], cur[2], next[0], next[1], next[2]]);
    else items.push([cur[0], cur[1], cur[2], cur[0], cur[1], cur[2]]);
  }
  return items;
}
function renderBand(params, api) {
  const a = api.coord([api.value(0), api.value(1)]);
  const b = api.coord([api.value(3), api.value(4)]);
  const c = api.coord([api.value(3), api.value(5)]);
  const d = api.coord([api.value(0), api.value(2)]);
  return {
    type: 'polygon',
    shape: { points: [a, b, c, d] },
    style: { fill: '#000', stroke: '#000', lineWidth: 0.8 }
  };
}
function renderSpike(params, api) {
  const top = api.coord([api.value(0), api.value(1)]);
  const bottom = api.coord([api.value(0), api.value(2)]);
  return {
    type: 'line',
    shape: { x1: top[0], y1: top[1], x2: bottom[0], y2: bottom[1] },
    style: { stroke: '#000', lineWidth: 1.2 }
  };
}

const grids = [], xAxes = [], yAxes = [], series = [], titles = [];

function addPanel(row, col, opts) {
  const idx = grids.length;
  grids.push({
    left: colLeft[col], top: rowTop[row], width: colWidth[col], height: rowHeight[row],
    show: true, borderColor: '#000', borderWidth: 1, backgroundColor: 'transparent'
  });
  xAxes.push({
    type: 'value', gridIndex: idx, min: xExtent[col][0], max: xExtent[col][1],
    axisLine: { show: true, onZero: false, lineStyle: { color: '#000', width: 1 } },
    axisTick: { show: true, length: 3, customValues: yearTicks, lineStyle: { color: '#000' } },
    axisLabel: { customValues: yearTicks, margin: 2, color: '#000', fontSize: 11, fontFamily: FONT,
      formatter: v => String(Math.round(v)) },
    splitLine: { show: false }
  });
  yAxes.push({
    type: 'value', gridIndex: idx, min: opts.extent[0], max: opts.extent[1],
    name: opts.name, nameLocation: 'middle', nameGap: opts.nameGap, nameRotate: 90,
    nameTextStyle: { color: '#000', fontSize: 11, fontFamily: FONT },
    axisLine: { show: true, onZero: false, lineStyle: { color: '#000', width: 1 } },
    axisTick: { show: true, length: 3, customValues: opts.ticks, lineStyle: { color: '#000' } },
    axisLabel: { customValues: opts.labels, rotate: 90, margin: 0, color: '#000', fontSize: 11, fontFamily: FONT,
      formatter: v => Number(v).toFixed(opts.digits) },
    splitLine: { show: false }
  });
  titles.push({
    text: opts.title, left: colLeft[col] + colWidth[col] / 2, top: rowTop[row] - 17, textAlign: 'center',
    textStyle: { fontSize: 14, fontWeight: 'bold', fontFamily: FONT, color: '#000' }
  });
  return idx;
}

for (let r = 0; r < 5; r++) {
  // currency rate panel
  const a = addPanel(r, 0, {
    extent: rateExtent[r], ticks: rateTicks[r], labels: rateTickLabels[r], digits: rateDigits[r],
    name: 'Currency Rate', nameGap: 8,
    title: 'Time Series of Currency Rates -  ' + countriesRate[r]
  });
  series.push({
    type: 'line', xAxisIndex: a, yAxisIndex: a, data: toLine(rateSeries[r]),
    showSymbol: false, connectNulls: false, silent: true,
    lineStyle: { color: '#000', width: 1.8 }
  });

  // log-return panel
  const b = addPanel(r, 1, {
    extent: returnExtent[r], ticks: returnTicks[r], labels: returnTickLabels[r], digits: returnDigits[r],
    name: 'Log-returns', nameGap: 11,
    title: 'Time Series of Log-Returns -  ' + countriesReturn[r]
  });
  series.push({
    type: 'line', xAxisIndex: b, yAxisIndex: b,
    data: [[zeroSpans[r][0], 0], [zeroSpans[r][1], 0]],
    showSymbol: false, silent: true,
    lineStyle: { color: zeroLineStyle[r].color, type: zeroLineStyle[r].type, width: 1.2 }
  });
  series.push({
    type: 'custom', xAxisIndex: b, yAxisIndex: b, data: toBands(bandSeries[r]),
    encode: { x: [0, 3], y: [1, 2, 4, 5] }, renderItem: renderBand, silent: true
  });
  series.push({
    type: 'custom', xAxisIndex: b, yAxisIndex: b, data: spikeSeries[r],
    encode: { x: 0, y: [1, 2] }, renderItem: renderSpike, silent: true
  });
}

const chart = echarts.init(document.getElementById('chart'), null, { renderer: 'canvas' });
chart.setOption({
  animation: false,
  backgroundColor: '#fff',
  title: titles,
  grid: grids,
  xAxis: xAxes,
  yAxis: yAxes,
  series: series
});
</script>
</body>
</html>
